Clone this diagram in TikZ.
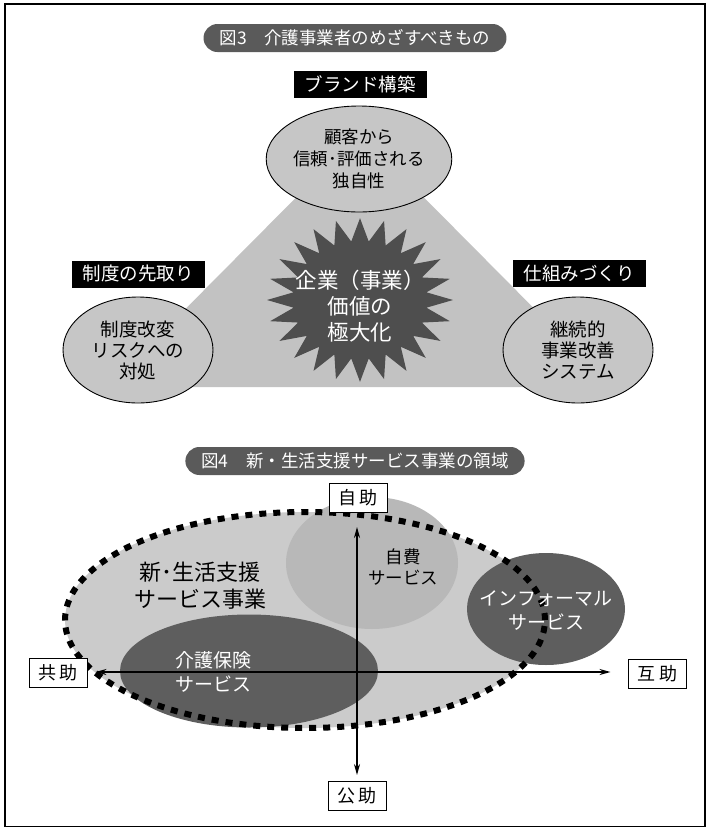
\documentclass[tikz,border=0pt]{standalone}
\usepackage{fontspec}
\setmainfont{Noto Sans CJK JP}
\usetikzlibrary{arrows.meta,shapes.geometric}
\definecolor{pillg}{HTML}{5A5A5A}
\definecolor{trig}{HTML}{C2C2C2}
\definecolor{ellg}{HTML}{C6C6C6}
\definecolor{starg}{HTML}{4E4E4E}
\definecolor{blobg}{HTML}{CBCBCB}
\definecolor{selfg}{HTML}{B8B8B8}
\definecolor{darkg}{HTML}{5E5E5E}
\tikzset{
  pill/.style={fill=pillg, text=white, rounded corners=14pt, minimum height=28pt, inner xsep=16pt, font=\fontsize{17.5}{20}\selectfont},
  blab/.style={fill=black, text=white, minimum height=27pt, inner xsep=11pt, font=\fontsize{18.5}{20}\selectfont},
  oval/.style={ellipse, draw=black, line width=0.9pt, fill=ellg, minimum width=150pt, minimum height=106pt, inner sep=0pt, align=center},
  darkoval/.style={ellipse, fill=darkg, text=white, inner sep=0pt, align=center},
  wbox/.style={draw=black, line width=0.9pt, fill=white, minimum width=58pt, minimum height=29pt, inner sep=2pt, font=\fontsize{18}{20}\selectfont},
  axis/.style={line width=1.8pt, -{Stealth[length=11pt,width=6pt]}},
}
\begin{document}
\begin{tikzpicture}[x=1pt,y=-1pt]
\useasboundingbox (0,0) rectangle (706,828);
\draw[line width=1.4pt] (5,4) rectangle (705,826.5);

% ---------- Figure 3 ----------
\node[pill] (t3) at (355,38) {図3　介護事業者のめざすべきもの};
\fill[trig] (360,133) -- (108,387) -- (612,387) -- cycle;
\fill[starg] plot[samples=49, domain=0:48] ({360+cos(\x*7.5)*(80+13*cos(180*\x))}, {300+0.88*sin(\x*7.5)*(80+13*cos(180*\x))}) -- cycle;
\node[text=white, align=center, font=\fontsize{21.5}{26}\selectfont] (core) at (360,306) {企業（事業）\\価値の\\極大化};

\node[oval, font=\fontsize{17.5}{22}\selectfont] (top) at (359,159) {顧客から\\信頼･評価される\\独自性};
\node[oval, font=\fontsize{18.5}{21}\selectfont] (left) at (138,350) {制度改変\\リスクへの\\対処};
\node[oval, font=\fontsize{18.5}{21}\selectfont] (right) at (578,350) {継続的\\事業改善\\システム};

\node[blab] (brand) at (360,84) {ブランド構築};
\node[blab] (sys) at (138,274) {制度の先取り};
\node[blab] (mech) at (579,273) {仕組みづくり};

% ---------- Figure 4 ----------
\node[pill] (t4) at (355,461) {図4　新・生活支援サービス事業の領域};

\fill[blobg] (305,620) ellipse [x radius=240pt, y radius=108pt];
\fill[selfg] (372,563) ellipse [x radius=86pt, y radius=66pt];
\node[darkoval, minimum width=258pt, minimum height=113pt] (care) at (249,671) {};
\node[darkoval, minimum width=158pt, minimum height=112pt] (info) at (546,609) {};
\draw[line width=6pt, dash pattern=on 7pt off 7pt] (305,620) ellipse [x radius=240pt, y radius=108pt];

\coordinate (o) at (357,672);
\node[wbox] (jijo) at (358,498) {自\hspace{4pt}助};
\node[wbox] (kojo) at (357,796) {公\hspace{4pt}助};
\node[wbox] (kyojo) at (58,673) {共\hspace{4pt}助};
\node[wbox] (gojo) at (657,674) {互\hspace{4pt}助};
\draw[axis, shorten >=14pt] (o) -- (o |- jijo.south);
\draw[axis, shorten >=6pt] (o) -- (o |- kojo.north);
\draw[axis, shorten >=8pt] (o) -- (kyojo.east |- o);
\draw[axis, shorten >=17pt] (o) -- (gojo.west |- o);

\node[align=center, font=\fontsize{22}{27}\selectfont] (newbiz) at (200,586) {新･生活支援\\サービス事業};
\node[align=center, font=\fontsize{17.5}{21}\selectfont] (self) at (403,567) {自費\\サービス};
\node[text=white, align=center, font=\fontsize{19}{24}\selectfont] (caret) at (213,672) {介護保険\\サービス};
\node[text=white, align=center, font=\fontsize{19}{24}\selectfont] (infot) at (546,610) {インフォーマル\\サービス};
\end{tikzpicture}
\end{document}
